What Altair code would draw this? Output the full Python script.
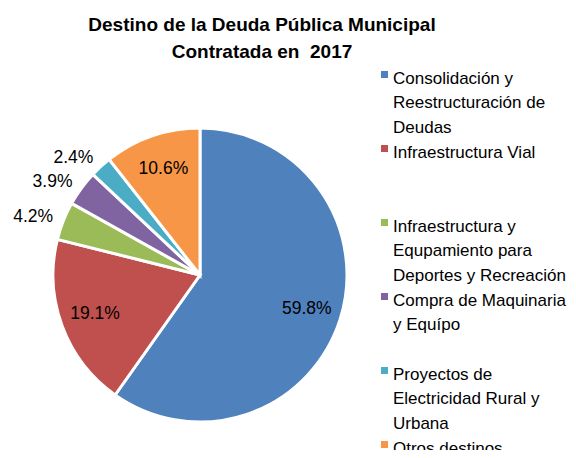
import altair as alt
import pandas as pd

categories = [
    "Consolidación y\nReestructuración de\nDeudas",
    "Infraestructura Vial",
    "Infraestructura y\nEqupamiento para\nDeportes y Recreación",
    "Compra de Maquinaria\ny Equípo",
    "Proyectos de\nElectricidad Rural y\nUrbana",
    "Otros destinos",
]
values = [59.8, 19.1, 4.2, 3.9, 2.4, 10.6]
colors = ["#4F81BD", "#C0504D", "#9BBB59", "#8064A2", "#4BACC6", "#F79646"]
title_lines = ["Destino de la Deuda Pública Municipal", "Contratada en\u00a0 2017"]

df = pd.DataFrame({"category": categories, "value": values, "order": list(range(len(values)))})
total = float(sum(values))

FONT = "Liberation Sans, Arial, sans-serif"

theta_scale = alt.Scale(domain=[0, total], range=[0, 6.283185307179586])

base = alt.Chart(df).transform_window(
    cum="sum(value)", sort=[alt.SortField("order")], frame=[None, 0]
).transform_calculate(
    start="datum.cum - datum.value",
    mid="datum.cum - datum.value / 2",
    label="format(datum.value, '.1f') + '%'",
)

pie = base.mark_arc(outerRadius=147, stroke="white", strokeWidth=3).encode(
    theta=alt.Theta("start:Q", scale=theta_scale),
    theta2="cum:Q",
    color=alt.Color(
        "category:N",
        scale=alt.Scale(domain=categories, range=colors),
        legend=alt.Legend(
            title=None,
            orient="none",
            legendX=346,
            legendY=-43,
            symbolType="M-1,0.14L1,0.14L1,2.14L-1,2.14Z",
            symbolSize=49,
            symbolStrokeWidth=0,
            labelFont=FONT,
            labelFontSize=17,
            labelLimit=400,
            labelOffset=0,
            labelBaseline="top",
            rowPadding=-0.5,
            labelExpr="slice(split(datum.label + '\\n \\n ', '\\n'), 0, 3)",
        ),
    ),
)

inside = base.transform_filter("datum.value > 5").mark_text(
    font=FONT, fontSize=17.5, color="black", radius=112
).encode(
    theta=alt.Theta("mid:Q", scale=theta_scale),
    text="label:N",
)

outside = base.transform_filter("datum.value <= 5").mark_text(
    font=FONT, fontSize=17.5, color="black", radius=158, align="right"
).encode(
    theta=alt.Theta("mid:Q", scale=theta_scale),
    text="label:N",
)

chart = (pie + inside + outside).properties(
    width=340,
    height=340,
    padding={"left": 22, "top": 97, "right": 198, "bottom": 5},
    autosize=alt.AutoSizeParams(type="none"),
    title=alt.TitleParams(
        text=title_lines,
        font=FONT,
        fontSize=19,
        fontWeight="bold",
        lineHeight=27,
        anchor="middle",
        dx=62,
        dy=4,
        color="black",
    ),
).configure(style={"guide-label": {"lineHeight": 24.5}}).configure_view(stroke=None)

chart.save("out.html", embed_options={"renderer": "svg", "actions": False})
